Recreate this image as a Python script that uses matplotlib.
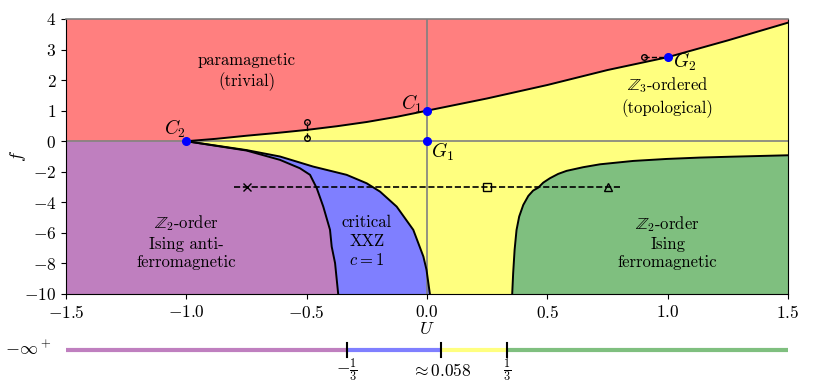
"""Phase diagram in the (U, f) plane with a 1D strip of the f -> -inf limit."""
import numpy as np
import matplotlib

matplotlib.use("Agg")
import matplotlib.pyplot as plt

plt.rcParams["font.family"] = "serif"
plt.rcParams["font.serif"] = ["cmr10"]
plt.rcParams["mathtext.fontset"] = "cm"
plt.rcParams["axes.formatter.use_mathtext"] = True
plt.rcParams["font.size"] = 12

# phase boundaries (U, f)
upper_U = [-1.0, -0.875, -0.75, -0.625, -0.5, -0.375, -0.25, -0.125, 0.0, 0.25, 0.5, 0.75,
           1.0, 1.25, 1.5]
upper_f = [0.0, 0.08, 0.18, 0.27, 0.37, 0.49, 0.63, 0.80, 1.0, 1.40, 1.84, 2.33, 2.75,
           3.30, 3.88]

left_U = [-1.0, -0.75, -0.611, -0.528, -0.486, -0.458, -0.431, -0.403, -0.396, -0.382, -0.369]
left_f = [0.0, -0.61, -1.22, -1.77, -2.2, -3.08, -4.28, -5.8, -6.9, -7.98, -10.0]

right_U = [-1.0, -0.75, -0.611, -0.473, -0.334, -0.251, -0.195, -0.126, -0.057, -0.015,
           -0.002, 0.012]
right_f = [0.0, -0.58, -1.0, -1.66, -2.2, -2.75, -3.3, -4.28, -5.8, -7.55, -8.42, -10.0]

green_U = [0.354, 0.358, 0.364, 0.372, 0.383, 0.400, 0.421, 0.441, 0.462, 0.483, 0.511,
           0.545, 0.580, 0.649, 0.719, 0.857, 0.996, 1.134, 1.272, 1.5]
green_f = [-10.0, -8.64, -7.11, -5.81, -4.93, -4.17, -3.58, -3.23, -3.04, -2.71, -2.42,
           -2.14, -1.94, -1.70, -1.51, -1.29, -1.16, -1.07, -1.01, -0.92]

# special points
points = {"C_2": (-1.0, 0.0), "C_1": (0.0, 1.0), "G_1": (0.0, 0.0), "G_2": (1.0, 2.75)}
cut_f = -3.0
cut_U = [-0.8, 0.8]
cut_markers = [(-0.75, "x"), (0.25, "s"), (0.75, "^")]

# f -> -inf strip
strip_edges = [-1.5, -1 / 3, 0.058, 1 / 3, 1.5]
strip_ticks = [-1 / 3, 0.058, 1 / 3]
strip_labels = [r"$-\frac{1}{3}$", r"$\approx 0.058$", r"$\frac{1}{3}$"]

RED, YEL, PUR, BLU, GRN = "#ff7f7f", "#ffff7f", "#bf7fbf", "#7f7fff", "#7fbf7f"


def fwd(y):
    y = np.asarray(y, dtype=float)
    return np.where(y > 0, y, y / 2)


def inv(y):
    y = np.asarray(y, dtype=float)
    return np.where(y > 0, y, y * 2)


fig = plt.figure(figsize=(8.3, 3.83), dpi=100)
ax = fig.add_axes([66 / 830, 89 / 383, 722 / 830, 275 / 383])
ax.set_yscale("function", functions=(fwd, inv))
ax.set_xlim(-1.5, 1.5)
ax.set_ylim(-10, 4)
ax.set_facecolor(YEL)
ax.spines["top"].set_color("grey")
ax.spines["top"].set_linewidth(1.2)

# regions
ax.fill([-1.5] + upper_U + [1.5, -1.5], [0.0] + upper_f + [4, 4], color=RED, lw=0)
ax.fill([-1.5] + left_U + [-1.5], [0.0] + left_f + [-10], color=PUR, lw=0)
ax.fill(right_U + left_U[::-1], right_f + left_f[::-1], color=BLU, lw=0)
ax.fill(green_U + [1.5], green_f + [-10], color=GRN, lw=0)

ax.axhline(0, color="grey", lw=1.2)
ax.axvline(0, color="grey", lw=1.2)

for xs, ys in [(upper_U, upper_f), (left_U, left_f), (right_U, right_f), (green_U, green_f)]:
    ax.plot(xs, ys, color="k", lw=1.4)

# cuts
ax.plot(cut_U, [cut_f, cut_f], "k--", lw=1.2)
for u, m in cut_markers:
    ax.plot(u, cut_f, m, mfc="none", mec="k", ms=6, mew=1)
ax.plot([-0.5, -0.5], [0.12, 0.64], "k--", lw=1.0, marker="o", mfc="none", ms=4)
ax.plot([0.9, 1.0], [2.75, 2.75], "k--", lw=1.0, marker="o", mfc="none", ms=4)

offsets = {"C_2": (-8, 9), "C_1": (-11, 5), "G_1": (11, -8), "G_2": (12, -3)}
for name, (u, f) in points.items():
    ax.plot(u, f, "o", color="blue", ms=5.5, zorder=5)
    ax.annotate(f"${name}$", (u, f), xytext=offsets[name], textcoords="offset points",
                ha="center", va="center", fontsize=14)

ax.text(-0.75, 2.27, "paramagnetic\n(trivial)", ha="center", va="center", linespacing=1.25)
ax.text(1.0, 1.46, "$\\mathbb{Z}_3$-ordered\n(topological)", ha="center", va="center",
        linespacing=1.25)
ax.text(-1.0, -6.57, "$\\mathbb{Z}_2$-order\nIsing anti-\nferromagnetic", ha="center",
        va="center", linespacing=1.25)
ax.text(-0.25, -6.57, "critical\nXXZ\n$c=1$", ha="center", va="center", linespacing=1.25)
ax.text(1.0, -6.6, "$\\mathbb{Z}_2$-order\nIsing\nferromagnetic", ha="center",
        va="center", linespacing=1.25)

ax.set_xticks([-1.5, -1.0, -0.5, 0.0, 0.5, 1.0, 1.5])
ax.set_yticks([4, 3, 2, 1, 0, -2, -4, -6, -8, -10])
ax.set_yticklabels([f"${v}$" for v in [4, 3, 2, 1, 0, -2, -4, -6, -8, -10]])
ax.tick_params(labelsize=12.5)
ax.set_xlabel("$U$", fontsize=13)
ax.set_ylabel("$f$", fontsize=13)
ax.xaxis.set_label_coords(0.5, -0.1)
ax.yaxis.set_label_coords(-0.052, 0.5)

# strip for f -> -inf
sx = fig.add_axes([66 / 830, 3 / 383, 722 / 830, 60 / 383])
sx.set_xlim(-1.5, 1.5)
sx.set_ylim(-1, 1)
sx.axis("off")
for (a, b), c in zip(zip(strip_edges[:-1], strip_edges[1:]), [PUR, BLU, YEL, GRN]):
    sx.plot([a, b], [0, 0], color=c, lw=3, solid_capstyle="butt")
for t, lab in zip(strip_ticks, strip_labels):
    sx.plot([t, t], [-0.24, 0.24], color="k", lw=1.5)
    sx.text(t, -0.67, lab, ha="center", va="center", fontsize=12.5)
sx.text(-1.56, 0.05, r"$-\infty^+$", ha="right", va="center", fontsize=13)

fig.savefig("out.png", dpi=100)
